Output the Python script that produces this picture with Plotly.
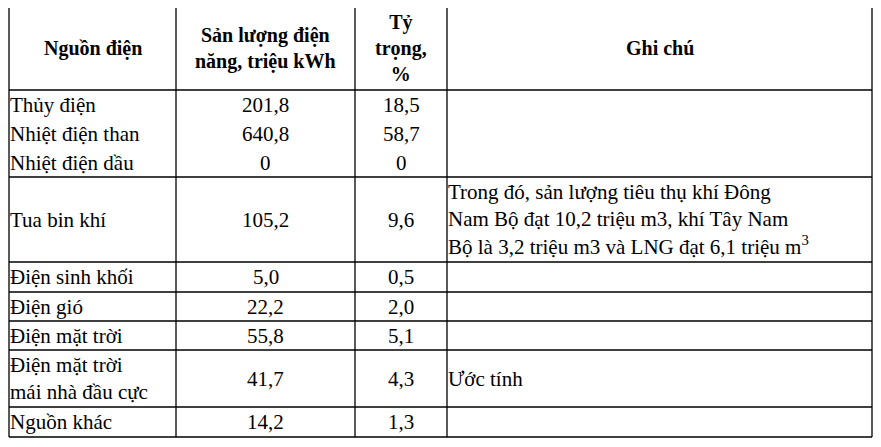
import plotly.graph_objects as go

headers = ["Nguồn điện", "Sản lượng điện<br>năng, triệu kWh", "Tỷ<br>trọng,<br>%", "Ghi chú"]
sources = ["Thủy điện", "Nhiệt điện than", "Nhiệt điện dầu", "Tua bin khí", "Điện sinh khối",
           "Điện gió", "Điện mặt trời", "Điện mặt trời<br>mái nhà đầu cực", "Nguồn khác"]
output = ["201,8", "640,8", "0", "105,2", "5,0", "22,2", "55,8", "41,7", "14,2"]
share = ["18,5", "58,7", "0", "9,6", "0,5", "2,0", "5,1", "4,3", "1,3"]
notes = ["", "", "",
         "Trong đó, sản lượng tiêu thụ khí Đông<br>Nam Bộ đạt 10,2 triệu m3, khí Tây Nam<br>Bộ là 3,2 triệu m3 và LNG đạt 6,1 triệu m<sup>3</sup>",
         "", "", "", "Ước tính", ""]

col_x = [9, 176, 355, 447, 872]
row_y = [6, 90, 119, 148, 177, 262, 292, 321, 350, 407, 437]
hline_rows = [0, 1, 4, 5, 6, 7, 8, 9, 10]

fig = go.Figure()
shapes = []
for x in col_x:
    shapes.append(dict(type="line", x0=x, x1=x, y0=row_y[0], y1=row_y[-1], line=dict(color="black", width=1.3)))
for i in hline_rows:
    shapes.append(dict(type="line", x0=col_x[0], x1=col_x[-1], y0=row_y[i], y1=row_y[i], line=dict(color="black", width=1.3)))

ann = []
fam = "Liberation Serif, Times New Roman, DejaVu Serif, serif"
font = dict(family=fam, size=21, color="black")
bfont = dict(family=fam, size=20, color="black")
for j, h in enumerate(headers):
    ann.append(dict(x=(col_x[j] + col_x[j + 1]) / 2, y=(row_y[0] + row_y[1]) / 2, text="<b>" + h + "</b>",
                    showarrow=False, font=bfont, xanchor="center", yanchor="middle"))
for i in range(len(sources)):
    yc = (row_y[i + 1] + row_y[i + 2]) / 2
    ann.append(dict(x=col_x[0] - 1, y=yc, text=sources[i], showarrow=False, font=font, xanchor="left", yanchor="middle", align="left"))
    ann.append(dict(x=(col_x[1] + col_x[2]) / 2, y=yc, text=output[i], showarrow=False, font=font, xanchor="center", yanchor="middle"))
    ann.append(dict(x=(col_x[2] + col_x[3]) / 2, y=yc, text=share[i], showarrow=False, font=font, xanchor="center", yanchor="middle"))
    if notes[i]:
        ann.append(dict(x=col_x[3] - 1, y=yc, text=notes[i], showarrow=False, font=font, xanchor="left", yanchor="middle", align="left"))

fig.update_layout(width=865, height=431, margin=dict(l=0, r=0, t=0, b=0),
                  paper_bgcolor="white", plot_bgcolor="white",
                  xaxis=dict(range=[8, 873], visible=False, fixedrange=True),
                  yaxis=dict(range=[439, 8], visible=False, fixedrange=True),
                  shapes=shapes, annotations=ann, showlegend=False)
fig.write_html("out.html", config={"displayModeBar": False})
